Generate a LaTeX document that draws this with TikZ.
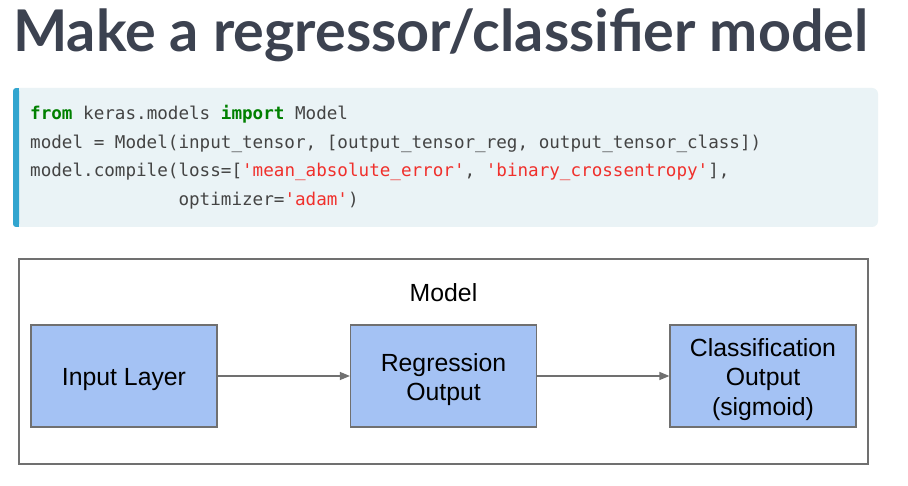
\documentclass[tikz,border=0pt]{standalone}
\usepackage{fontspec}
\setmainfont{Liberation Sans}
\newfontfamily\titlefont{Lato}
\newfontfamily\codefont{DejaVu Sans Mono}
\usetikzlibrary{arrows.meta}

\definecolor{titlegray}{HTML}{3C4250}
\definecolor{codebg}{HTML}{EAF3F6}
\definecolor{codebar}{HTML}{31A5CF}
\definecolor{codetext}{HTML}{444444}
\definecolor{kwgreen}{HTML}{008000}
\definecolor{strred}{HTML}{F0302C}
\definecolor{boxblue}{HTML}{A4C2F4}
\definecolor{linegray}{HTML}{707070}

\tikzset{
  boxtext/.style={align=center, inner sep=0pt, yshift=-3.5pt,
    font=\fontsize{24.8}{29.5}\selectfont},
  layerbox/.style={draw=linegray, line width=1.2pt, fill=boxblue,
    minimum width=186pt, minimum height=102pt, inner sep=0pt},
  codeline/.style={anchor=base west, inner sep=0pt, text=codetext,
    font=\codefont\fontsize{17.6}{20}\selectfont},
  flow/.style={draw=linegray, line width=1.2pt,
    -{Triangle[length=10pt,width=8pt]}},
}
\newcommand{\kw}[1]{\textcolor{kwgreen}{\bfseries #1}}
\newcommand{\str}[1]{\textcolor{strred}{#1}}

\begin{document}
\begin{tikzpicture}[x=1pt,y=-1pt]
\useasboundingbox (0,0) rectangle (908,486);
\fill[white] (0,0) rectangle (908,486);

% heading
\node[anchor=base west, inner sep=0pt, text=titlegray,
  font=\titlefont\bfseries\fontsize{57.5}{60}\selectfont] (title) at (13,52)
  {Make a regressor/classifier model};

% code panel
\fill[codebg, rounded corners=6pt] (13,88) rectangle (878,227);
\fill[codebar, rounded corners=3pt] (13,88) rectangle (19,227);
\fill[codebar] (16,88) rectangle (19,227);

\node[codeline] (c1) at (30,119.5) {\kw{from} keras.models \kw{import} Model};
\node[codeline] (c2) at (30,148.5) {model = Model(input\_tensor, [output\_tensor\_reg, output\_tensor\_class])};
\node[codeline] (c3) at (30,177) {model.compile(loss=[\str{'mean\_absolute\_error'}, \str{'binary\_crossentropy'}],};
\node[codeline] (c4) at (30,206) {\phantom{model.compile(}optimizer=\str{'adam'})};

% model diagram
\node[draw=linegray, line width=1.2pt, minimum width=849pt, minimum height=205pt,
  inner sep=0pt] (frame) at (443.5,361.5) {};
\node[font=\fontsize{24.8}{29.5}\selectfont] (mlabel) at (443.5,293) {Model};

\node[layerbox, label={[boxtext]center:Input Layer}] (inp) at (124,376) {};
\node[layerbox, label={[boxtext]center:Regression\\Output}] (reg) at (443.5,376) {};
\node[layerbox, label={[boxtext]center:Classification\\Output\\(sigmoid)}] (cls) at (763,376) {};

\draw[flow] (inp) -- (reg);
\draw[flow] (reg) -- (cls);
\end{tikzpicture}
\end{document}
